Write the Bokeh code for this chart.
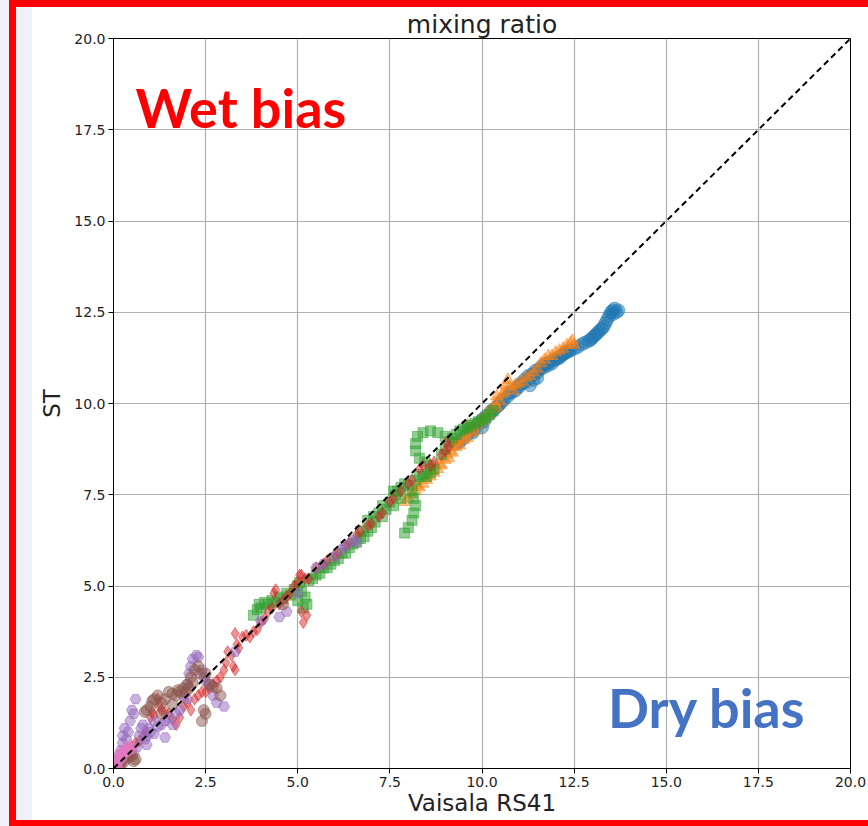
from bokeh.plotting import figure
from bokeh.models import Range1d, FixedTicker, Label, Slope, Div
from bokeh.layouts import row, column
from bokeh.embed import file_html
from bokeh.resources import INLINE

tick_values = [0, 2.5, 5, 7.5, 10, 12.5, 15, 17.5, 20]
tick_labels = ["0.0", "2.5", "5.0", "7.5", "10.0", "12.5", "15.0", "17.5", "20.0"]

blue_pts = [(9.3, 8.9), (9.4, 8.95), (9.5, 9.05), (9.6, 9.15), (9.65, 9.3), (9.7, 9.25), (9.75, 9.2),
            (9.8, 9.3), (9.9, 9.45), (10.0, 9.55), (10.05, 9.5), (10.1, 9.65), (10.2, 9.7), (10.25, 9.8),
            (10.3, 9.8), (10.4, 9.9), (10.45, 9.95), (10.5, 10.0), (10.55, 10.1), (10.6, 10.1),
            (10.7, 10.2), (10.75, 10.3), (10.8, 10.3), (10.9, 10.35), (10.95, 10.45), (11.0, 10.45),
            (11.05, 10.55), (11.1, 10.55), (11.15, 10.65), (11.2, 10.6), (11.25, 10.75), (11.3, 10.7),
            (11.35, 10.8), (11.4, 10.8), (11.45, 10.9), (11.5, 10.85), (11.55, 10.95), (11.6, 10.95),
            (11.65, 11.05), (11.7, 11.0), (11.75, 11.1), (11.8, 11.05), (11.85, 11.15), (11.9, 11.1),
            (11.95, 11.2), (12.0, 11.2), (12.05, 11.25), (12.1, 11.25), (12.15, 11.3), (12.2, 11.35),
            (12.25, 11.38), (12.3, 11.4), (12.35, 11.45), (12.4, 11.45), (12.5, 11.5), (12.6, 11.55),
            (12.7, 11.62), (12.8, 11.67), (12.9, 11.72), (12.95, 11.75), (13.0, 11.8), (13.05, 11.85),
            (13.1, 11.9), (13.15, 11.95), (13.2, 12.0), (13.25, 12.05), (13.3, 12.1), (13.35, 12.2),
            (13.4, 12.3), (13.45, 12.4), (13.5, 12.5), (13.55, 12.55), (13.6, 12.6), (13.7, 12.55),
            (13.65, 12.5), (13.55, 12.45), (11.3, 10.5), (11.4, 10.65), (11.5, 10.7), (10.0, 9.35)]

orange_pts = [(7.9, 7.3), (8.0, 7.4), (8.1, 7.5), (8.2, 7.6), (8.25, 7.75), (8.3, 7.7), (8.4, 7.8),
              (8.45, 7.95), (8.5, 7.9), (8.6, 8.0), (8.65, 8.15), (8.7, 8.1), (8.8, 8.2), (8.85, 8.35),
              (8.9, 8.3), (9.0, 8.45), (9.05, 8.6), (9.1, 8.5), (9.15, 8.7), (9.2, 8.65), (9.3, 8.8),
              (9.35, 8.95), (9.4, 8.85), (9.5, 9.0), (9.55, 9.15), (9.6, 9.05), (9.7, 9.2), (9.75, 9.35),
              (9.8, 9.25), (9.9, 9.4), (9.95, 9.55), (10.0, 9.5), (10.1, 9.6), (10.15, 9.75), (10.2, 9.7),
              (10.3, 9.85), (10.35, 10.0), (10.4, 9.9), (10.5, 10.05), (10.55, 10.25), (10.6, 10.3),
              (10.65, 10.5), (10.7, 10.65), (10.75, 10.45), (10.85, 10.35), (10.9, 10.5), (11.0, 10.55),
              (11.1, 10.6), (11.2, 10.7), (11.3, 10.75), (11.4, 10.85), (11.5, 10.95), (11.6, 11.1),
              (11.7, 11.2), (11.8, 11.3), (11.9, 11.3), (12.0, 11.4), (12.1, 11.45), (12.2, 11.5),
              (12.3, 11.6), (12.4, 11.65), (12.45, 11.72), (12.5, 11.6), (9.2, 8.95), (9.6, 9.4),
              (8.6, 8.3), (10.4, 10.2)]

green_pts = [(3.8, 4.2), (3.9, 4.35), (3.95, 4.5), (4.0, 4.4), (4.1, 4.55), (4.2, 4.5), (4.3, 4.6),
             (4.4, 4.55), (4.5, 4.7), (4.6, 4.65), (4.7, 4.8), (4.8, 4.75), (4.9, 4.9), (5.0, 5.0),
             (5.05, 5.1), (5.1, 4.85), (5.2, 4.7), (5.25, 4.5), (5.15, 4.4), (5.0, 4.6), (5.3, 5.15),
             (5.4, 5.2), (5.5, 5.3), (5.6, 5.35), (5.7, 5.5), (5.8, 5.5), (5.9, 5.6), (6.0, 5.7),
             (6.1, 5.75), (6.2, 5.9), (6.3, 5.9), (6.4, 6.05), (6.5, 6.15), (6.6, 6.2), (6.7, 6.3),
             (6.8, 6.35), (6.9, 6.5), (7.0, 6.6), (7.05, 6.9), (7.1, 6.75), (7.2, 7.0), (7.3, 7.2),
             (7.4, 7.1), (7.5, 7.3), (7.6, 7.2), (7.65, 7.5), (7.7, 7.6), (7.8, 7.7), (7.9, 7.8),
             (8.0, 7.75), (8.1, 7.6), (8.15, 7.4), (8.2, 7.2), (8.15, 7.0), (8.1, 6.8), (8.0, 6.6),
             (7.9, 6.45), (8.2, 7.9), (8.3, 8.0), (8.4, 8.05), (8.5, 8.0), (8.6, 8.1), (8.7, 8.2),
             (8.6, 8.3), (8.45, 8.4), (8.3, 8.5), (8.2, 8.7), (8.2, 8.9), (8.25, 9.1), (8.4, 9.2),
             (8.6, 9.25), (8.8, 9.2), (9.0, 9.1), (9.1, 8.95), (9.2, 9.05), (9.3, 9.15), (9.4, 9.25),
             (9.5, 9.3), (9.6, 9.35), (9.7, 9.4), (9.8, 9.45), (9.9, 9.5), (10.0, 9.55), (10.1, 9.6),
             (10.2, 9.7), (10.3, 9.8), (8.9, 8.6), (9.0, 8.75), (7.3, 6.9), (6.9, 6.8), (6.7, 6.5),
             (7.8, 7.4), (7.6, 7.6)]

red_pts = [(0.3, 0.3), (0.4, 0.5), (0.5, 0.6), (0.6, 0.7), (0.7, 0.75), (0.8, 0.9), (0.9, 1.0),
           (1.0, 1.4), (1.05, 1.55), (1.1, 1.45), (1.2, 1.9), (1.25, 1.7), (1.3, 1.6), (1.4, 1.55),
           (1.5, 1.5), (1.6, 1.35), (1.7, 1.2), (1.8, 1.4), (1.9, 1.7), (2.0, 1.8), (2.1, 1.6),
           (2.2, 1.9), (2.3, 2.0), (2.4, 2.1), (2.5, 2.1), (2.6, 2.2), (2.7, 2.3), (2.8, 2.4),
           (2.9, 2.5), (3.0, 2.7), (3.05, 2.9), (3.1, 3.2), (3.2, 3.1), (3.25, 2.8), (3.3, 2.7),
           (3.35, 3.4), (3.4, 3.3), (3.5, 3.6), (3.3, 3.7), (3.6, 3.65), (3.7, 3.6), (3.8, 3.75),
           (3.9, 3.8), (4.0, 4.0), (4.1, 4.1), (4.2, 4.3), (4.3, 4.4), (4.35, 4.8), (4.4, 4.9),
           (4.5, 4.5), (4.6, 4.6), (4.7, 4.7), (4.8, 4.8), (4.9, 5.0), (5.0, 5.1), (5.05, 5.3),
           (5.1, 5.3), (5.2, 5.2), (5.3, 5.2), (5.1, 4.3), (5.15, 4.0), (5.25, 4.2), (5.5, 5.5),
           (5.7, 5.6), (5.8, 5.7), (6.0, 5.85), (6.1, 5.9), (6.3, 6.1), (6.4, 6.2), (6.6, 6.4),
           (6.7, 6.5), (6.9, 6.65), (7.0, 6.7), (7.2, 6.9), (7.3, 7.0), (7.5, 7.3), (7.6, 7.4),
           (7.8, 7.6), (8.0, 7.8), (8.1, 7.9), (8.3, 8.2), (8.4, 8.3), (8.6, 8.3), (8.7, 8.4),
           (8.9, 8.6), (9.0, 8.7), (9.1, 8.8), (9.05, 8.95)]

purple_pts = [(0.05, 0.1), (0.1, 0.2), (0.15, 0.35), (0.2, 0.5), (0.25, 0.7), (0.25, 0.9), (0.3, 1.1),
              (0.35, 0.8), (0.4, 1.0), (0.45, 1.3), (0.5, 1.6), (0.55, 1.5), (0.6, 1.9), (0.7, 0.9),
              (0.75, 1.1), (0.8, 1.2), (0.85, 0.8), (0.9, 0.9), (0.95, 1.1), (1.0, 1.0), (1.1, 1.3),
              (1.2, 1.15), (1.3, 1.2), (1.4, 1.3), (1.5, 1.4), (1.6, 1.2), (1.7, 1.5), (1.8, 1.6),
              (1.9, 2.0), (2.0, 2.3), (2.05, 2.6), (2.1, 2.8), (2.15, 3.0), (2.25, 3.1), (2.3, 3.05),
              (2.4, 2.7), (2.45, 2.5), (2.5, 2.4), (2.6, 2.3), (2.7, 2.0), (2.8, 1.8), (3.0, 1.7),
              (2.0, 1.9), (1.4, 0.85), (0.55, 0.4), (0.65, 0.6), (0.9, 0.65), (1.1, 0.95), (3.3, 3.2),
              (4.0, 4.05), (4.5, 4.15), (4.7, 4.3), (5.0, 4.8), (5.5, 5.5), (5.7, 5.6), (6.0, 5.8),
              (6.2, 6.0), (6.3, 6.1), (6.5, 6.25), (6.6, 6.2)]

brown_pts = [(0.15, 0.05), (0.2, 0.1), (0.3, 0.2), (0.35, 0.35), (0.4, 0.3), (0.45, 0.4), (0.5, 0.35),
             (0.55, 0.2), (0.6, 0.25), (0.25, 0.25), (0.85, 1.55), (0.9, 1.6), (1.0, 1.7), (1.05, 1.85),
             (1.1, 1.9), (1.2, 2.0), (1.3, 1.8), (1.4, 1.9), (1.5, 2.1), (1.6, 2.05), (1.7, 2.0),
             (1.75, 2.15), (1.8, 2.1), (1.9, 2.2), (1.95, 2.1), (2.0, 2.3), (2.05, 2.2), (2.1, 2.5),
             (2.15, 2.35), (2.2, 2.7), (2.3, 2.8), (2.35, 2.6), (2.5, 2.6), (2.6, 2.3), (2.7, 2.25),
             (2.8, 2.2), (2.9, 2.0), (2.5, 1.5), (2.4, 1.3), (2.45, 1.6), (1.3, 1.5), (1.6, 1.75),
             (4.6, 4.5)]

pink_pts = [(0.02, 0.02), (0.05, 0.1), (0.08, 0.05), (0.1, 0.15), (0.12, 0.25), (0.15, 0.25),
            (0.18, 0.4), (0.2, 0.35), (0.22, 0.3), (0.25, 0.4), (0.3, 0.5), (0.33, 0.45), (0.35, 0.55),
            (0.4, 0.5), (0.45, 0.6), (0.5, 0.55)]

series = [
    (blue_pts, "circle", 13, "#1f77b4"),
    (orange_pts, "triangle", 12, "#ff7f0e"),
    (green_pts, "square", 10, "#2ca02c"),
    (red_pts, "diamond", 12, "#d62728"),
    (purple_pts, "hex", 11, "#9467bd"),
    (brown_pts, "circle", 11, "#8c564b"),
    (pink_pts, "circle", 11, "#e377c2"),
]

p = figure(width=836, height=813, output_backend="svg", toolbar_location=None,
           x_range=Range1d(0, 20), y_range=Range1d(0, 20),
           min_border_left=81, min_border_right=18, min_border_top=31, min_border_bottom=52,
           title="mixing ratio")
p.background_fill_color = "white"
p.border_fill_color = "white"
p.outline_line_color = "black"
p.outline_line_width = 1

p.title.align = "center"
p.title.text_font = "DejaVu Sans"
p.title.text_font_size = "25px"
p.title.text_font_style = "normal"
p.title.text_color = "#222222"
p.title.standoff = 0

for ax in (p.xaxis, p.yaxis):
    ax.ticker = FixedTicker(ticks=tick_values)
    ax.major_label_overrides = {v: s for v, s in zip(tick_values, tick_labels)}
    ax.major_label_text_font = "DejaVu Sans"
    ax.major_label_text_font_size = "14px"
    ax.major_label_text_color = "#222222"
    ax.axis_label_text_font = "DejaVu Sans"
    ax.axis_label_text_font_size = "23px"
    ax.axis_label_text_font_style = "normal"
    ax.axis_label_text_color = "#222222"
    ax.axis_line_color = "black"
    ax.major_tick_line_color = "black"
    ax.major_tick_out = 5
    ax.major_tick_in = 0
    ax.minor_tick_line_color = None
    ax.major_label_standoff = 3

p.xaxis.axis_label = "Vaisala RS41"
p.yaxis.axis_label = "ST"
p.xaxis.axis_label_standoff = 0
p.yaxis.axis_label_standoff = 6

p.xgrid.ticker = FixedTicker(ticks=tick_values)
p.ygrid.ticker = FixedTicker(ticks=tick_values)
for g in (p.xgrid, p.ygrid):
    g.grid_line_color = "#b0b0b0"
    g.grid_line_width = 1.2

for pts, mk, sz, col in series:
    xs = [a for a, b in pts]
    ys = [b for a, b in pts]
    p.scatter(xs, ys, marker=mk, size=sz, fill_color=col, line_color=col,
              fill_alpha=0.5, line_alpha=0.5)

p.add_layout(Slope(gradient=1, y_intercept=0, line_color="black", line_width=2, line_dash="6 4"))

p.add_layout(Label(x=0.6, y=18.1, text="Wet bias", text_font="Lato", text_font_size="54px",
                   text_font_style="bold", text_color="#ff0000", text_baseline="alphabetic"))
p.add_layout(Label(x=13.42, y=1.67, text="Dry bias", text_font="Lato", text_font_size="54px",
                   text_font_style="bold", text_color="#4472c4", text_baseline="alphabetic"))


def block(w, h, c):
    return Div(width=w, height=h, styles={"background-color": c}, margin=0)


LAV = "#f0f0fa"
RED = "#ff0000"
layout = column(
    row(block(9, 7, LAV), block(859, 7, RED), spacing=0, margin=0),
    row(block(9, 813, LAV), block(7, 813, RED), block(16, 813, LAV), p, spacing=0, margin=0),
    row(block(9, 6, LAV), block(859, 6, RED), spacing=0, margin=0),
    spacing=0, margin=0,
)

open("out.html", "w").write(file_html(layout, INLINE))
